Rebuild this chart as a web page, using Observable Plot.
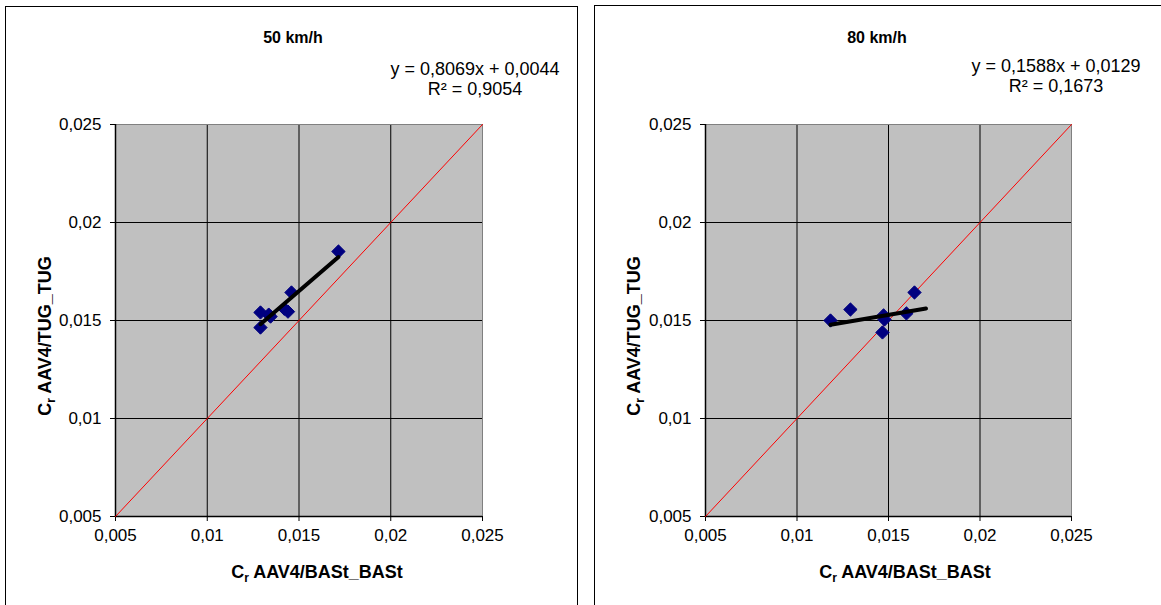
<!DOCTYPE html>
<html>
<head>
<meta charset="utf-8">
<script src="https://cdn.jsdelivr.net/npm/d3@7"></script>
<script src="https://cdn.jsdelivr.net/npm/@observablehq/plot@0.6"></script>
<style>
  html, body { margin: 0; padding: 0; background: #fff; }
  #root { position: relative; width: 1161px; height: 605px; overflow: hidden; font-family: "Liberation Sans", Arial, sans-serif; }
  .panel { position: absolute; border: 1px solid #000; box-sizing: border-box; }
  .chart { position: absolute; top: 0; }
  .title { position: absolute; font-weight: bold; font-size: 16px; transform: translate(-50%, -50%); white-space: nowrap; color: #000; }
  .eq { position: absolute; font-size: 18px; text-align: center; transform: translate(-50%, 0); white-space: nowrap; line-height: 20px; color: #000; }
  .xlab { position: absolute; font-weight: bold; font-size: 18px; transform: translate(-50%, -50%); white-space: nowrap; color: #000; }
  .ylab { position: absolute; font-weight: bold; font-size: 18px; transform: translate(-50%, -50%) rotate(-90deg); white-space: nowrap; color: #000; }
  sub { font-size: 12px; vertical-align: -4px; }
</style>
</head>
<body>
<div id="root">
  <div class="panel" style="left:5px;top:6px;width:573px;height:620px;"></div>
  <div class="panel" style="left:594px;top:5px;width:600px;height:620px;"></div>
</div>
<script>
// Axis ticks (shared)
const tickValues = [0.005, 0.01, 0.015, 0.02, 0.025];
const diagonal = [0.005, 0.025];

// 50 km/h panel
const x50 = [0.01290, 0.01335, 0.01345, 0.01420, 0.01440, 0.01459, 0.01715, 0.01290];
const y50 = [0.01541, 0.01530, 0.01520, 0.01560, 0.01545, 0.01643, 0.01852, 0.01464];
const trendX50 = [0.01290, 0.01715];
const trendY50 = [0.01481, 0.01824];

// 80 km/h panel
const x80 = [0.01183, 0.01292, 0.01473, 0.01478, 0.01467, 0.01598, 0.01642];
const y80 = [0.01500, 0.01556, 0.01526, 0.01505, 0.01439, 0.01536, 0.01643];
const trendX80 = [0.01183, 0.01705];
const trendY80 = [0.01478, 0.01561];

const panels = [
  {title: "50 km/h", eq: "y = 0,8069x + 0,0044", r2: "R² = 0,9054", xs: x50, ys: y50, tx: trendX50, ty: trendY50,
   left: 0, width: 580, mLeft: 115, mRight: 98,
   titleX: 293, titleY: 38, eqX: 475, eqY: 59, xlabX: 317, ylabX: 46},
  {title: "80 km/h", eq: "y = 0,1588x + 0,0129", r2: "R² = 0,1673", xs: x80, ys: y80, tx: trendX80, ty: trendY80,
   left: 585, width: 576, mLeft: 120, mRight: 90,
   titleX: 877, titleY: 38, eqX: 1056, eqY: 56, xlabX: 905, ylabX: 635}
];

const fmt = d => String(d).replace(".", ",");
const root = document.getElementById("root");

for (const p of panels) {
  const pts = p.xs.map((x, i) => ({x, y: p.ys[i]}));
  const trend = p.tx.map((x, i) => ({x, y: p.ty[i]}));
  const diag = diagonal.map(v => ({x: v, y: v}));
  const chart = Plot.plot({
    width: p.width,
    height: 605,
    marginLeft: p.mLeft,
    marginRight: p.mRight,
    marginTop: 124,
    marginBottom: 89,
    style: {fontFamily: "'Liberation Sans', Arial, sans-serif", fontSize: "17px", color: "#000", background: "transparent", overflow: "visible"},
    x: {domain: [0.005, 0.025], ticks: tickValues, tickFormat: fmt, label: null},
    y: {domain: [0.005, 0.025], ticks: tickValues, tickFormat: fmt, label: null},
    marks: [
      Plot.frame({fill: "#c0c0c0", stroke: null}),
      Plot.gridX(tickValues, {stroke: "#000", strokeOpacity: 1, strokeWidth: 1}),
      Plot.gridY(tickValues, {stroke: "#000", strokeOpacity: 1, strokeWidth: 1}),
      Plot.frame({stroke: "#808080", strokeWidth: 1}),
      Plot.ruleX([0.005], {stroke: "#000", strokeWidth: 1.5}),
      Plot.ruleY([0.005], {stroke: "#000", strokeWidth: 1.5}),
      Plot.axisX({ticks: tickValues, tickFormat: fmt, tickSize: 5, tickPadding: 7, fontSize: 17, label: null}),
      Plot.axisY({ticks: tickValues, tickFormat: fmt, tickSize: 5, tickPadding: 9, fontSize: 17, label: null}),
      Plot.line(diag, {x: "x", y: "y", stroke: "#ff0000", strokeWidth: 1}),
      Plot.dot(pts, {x: "x", y: "y", symbol: "diamond2", r: 6, fill: "#000080", stroke: "#000080", strokeWidth: 1}),
      Plot.line(trend, {x: "x", y: "y", stroke: "#000", strokeWidth: 4, strokeLinecap: "round"})
    ]
  });
  chart.classList.add("chart");
  chart.style.left = p.left + "px";
  root.appendChild(chart);

  const t = document.createElement("div");
  t.className = "title"; t.textContent = p.title;
  t.style.left = p.titleX + "px"; t.style.top = p.titleY + "px";
  root.appendChild(t);

  const e = document.createElement("div");
  e.className = "eq";
  e.innerHTML = p.eq + "<br>" + p.r2;
  e.style.left = p.eqX + "px"; e.style.top = p.eqY + "px";
  root.appendChild(e);

  const xl = document.createElement("div");
  xl.className = "xlab";
  xl.innerHTML = "C<sub>r</sub> AAV4/BASt_BASt";
  xl.style.left = p.xlabX + "px"; xl.style.top = "573px";
  root.appendChild(xl);

  const yl = document.createElement("div");
  yl.className = "ylab";
  yl.innerHTML = "C<sub>r</sub> AAV4/TUG_TUG";
  yl.style.left = p.ylabX + "px"; yl.style.top = "336px";
  root.appendChild(yl);
}
</script>
</body>
</html>
